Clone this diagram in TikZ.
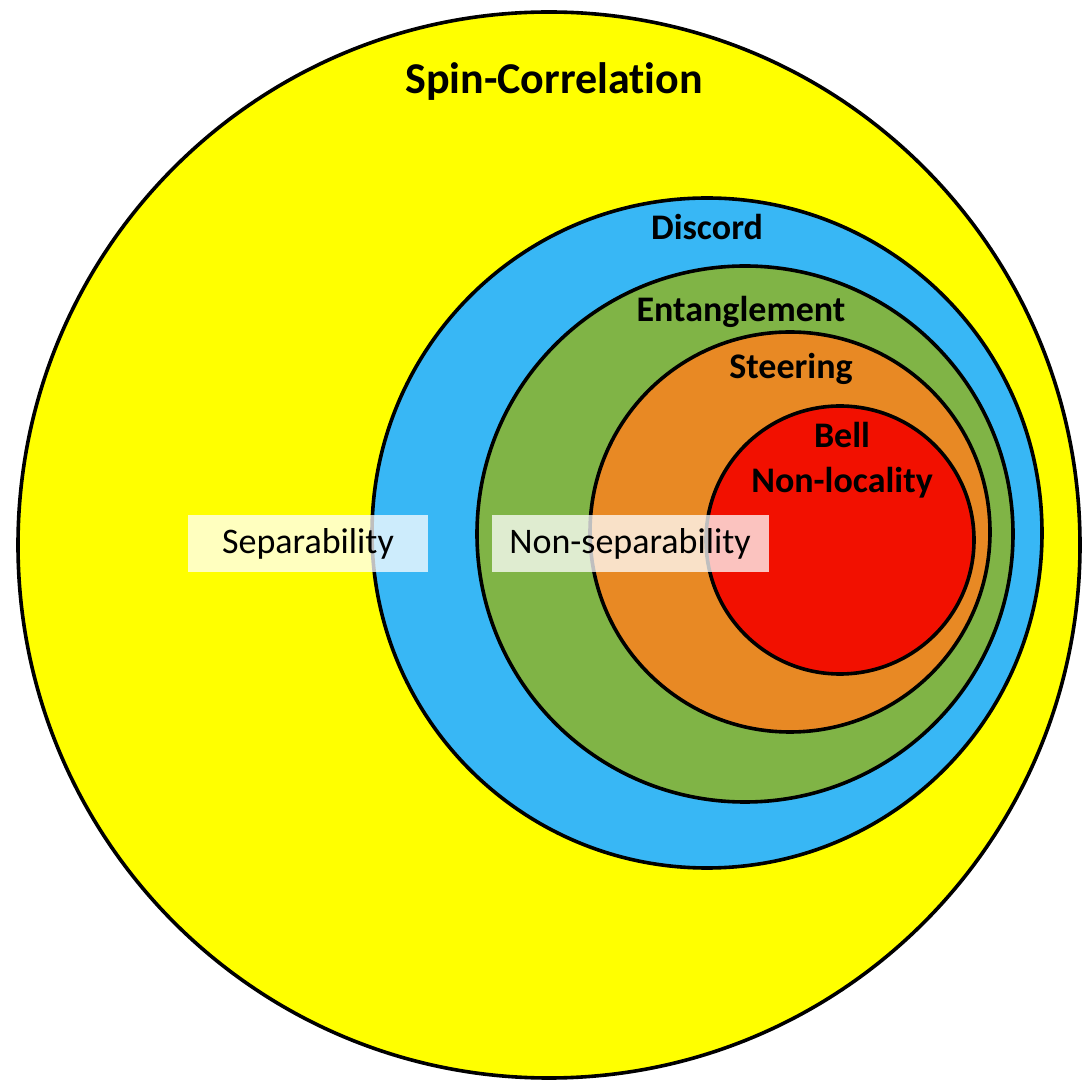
\documentclass[tikz,border=0pt]{standalone}
\usepackage{fontspec}
\setmainfont{Carlito}[Ligatures=NoCommon]
\definecolor{spinyellow}{RGB}{255,255,0}
\definecolor{discordblue}{RGB}{56,183,245}
\definecolor{entgreen}{RGB}{128,180,70}
\definecolor{steerorange}{RGB}{232,137,36}
\definecolor{bellred}{RGB}{242,16,0}
\begin{document}
\begin{tikzpicture}[x=1pt,y=1pt,
  ring/.style={draw=black,line width=3.6pt},
  title/.style={font=\fontsize{36}{45}\selectfont\bfseries,anchor=base,align=center},
  tag/.style={fill=white,fill opacity=0.75,text opacity=1,minimum width=#1,minimum height=57,inner sep=0pt,font=\fontsize{36}{40}\selectfont}]
\useasboundingbox (0,0) rectangle (1082,1080);
\fill[white] (0,0) rectangle (1082,1080);
\draw[ring,fill=spinyellow] (549,535) ellipse (531 and 533);
\draw[ring,fill=discordblue] (707,547) circle (335);
\draw[ring,fill=entgreen] (745,546) circle (268);
\draw[ring,fill=steerorange] (790,548) circle (200);
\draw[ring,fill=bellred] (840,540) circle (134);
\node[title,font=\fontsize{44}{50}\selectfont\bfseries] (spin) at (554,986) {Spin-Correlation};
\node[title] (discord) at (707,840) {Discord};
\node[title] (entangle) at (741,758) {Entanglement};
\node[title] (steer) at (791,701) {Steering};
\node[title] (bell) at (842,632) {Bell};
\node[title] (nonloc) at (842,587) {Non-locality};
\node[tag=240] (sep) at (308,536) {Separability};
\node[tag=277] (nonsep) at (630,536) {Non-separability};
\end{tikzpicture}
\end{document}
